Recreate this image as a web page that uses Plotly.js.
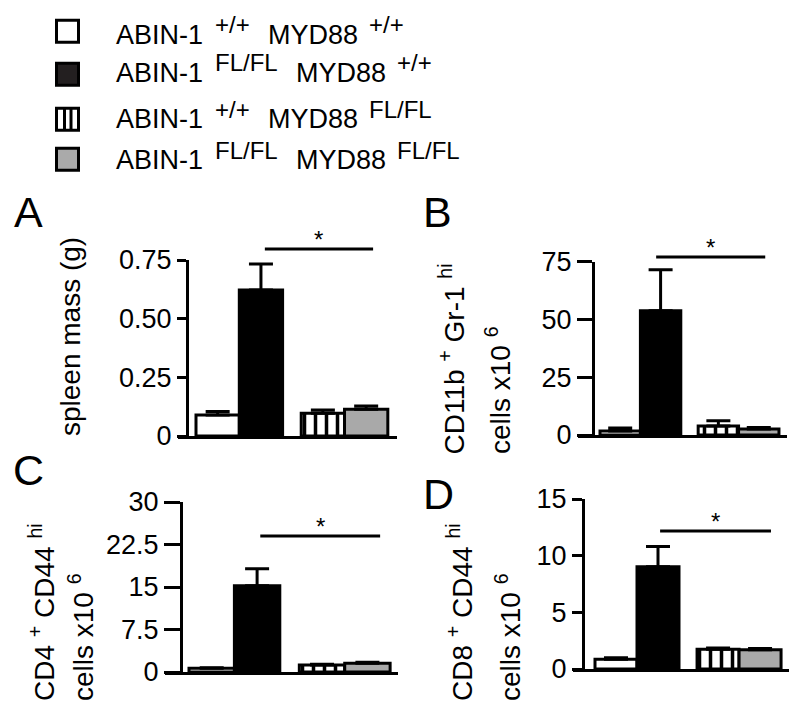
<!DOCTYPE html>
<html>
<head>
<meta charset="utf-8">
<script src="https://cdn.plot.ly/plotly-3.0.1.min.js"></script>
<style>
  html, body { margin: 0; padding: 0; background: #fff; }
  #chart { width: 800px; height: 704px; }
</style>
</head>
<body>
<div id="chart"></div>
<script>
// genotypes (legend order = bar order)
const abinAllele = ['+/+', 'FL/FL', '+/+', 'FL/FL'];
const myd88Allele = ['+/+', '+/+', 'FL/FL', 'FL/FL'];

// A: spleen mass (g)
const spleenMass = [0.089, 0.622, 0.097, 0.114];
const spleenMassErr = [0.015, 0.111, 0.014, 0.014];
// B: CD11b+ Gr-1hi cells x10^6
const myeloidCells = [1.7, 53.7, 3.9, 2.6];
const myeloidErr = [1.3, 17.7, 2.3, 0.6];
// C: CD4+ CD44hi cells x10^6
const cd4Cells = [0.65, 15.2, 1.24, 1.53];
const cd4Err = [0.1, 3.0, 0.12, 0.17];
// D: CD8+ CD44hi cells x10^6
const cd8Cells = [0.85, 9.03, 1.74, 1.7];
const cd8Err = [0.15, 1.77, 0.11, 0.1];

const ticksA = [0, 0.25, 0.5, 0.75], tickTextA = ['0', '0.25', '0.50', '0.75'];
const ticksB = [0, 25, 50, 75];
const ticksC = [0, 7.5, 15, 22.5, 30], tickTextC = ['0', '7.5', '15', '22.5', '30'];
const ticksD = [0, 5, 10, 15];

const W = 800, H = 704;
const FONT = 'Liberation Sans, Arial, sans-serif';
const barFill = ['#ffffff', '#000000', '#ffffff', '#a9a9a9'];
const barPattern = ['', '', '|', ''];
const barX = [0, 1, 2.43, 3.43];

function px(x) { return x / W; }
function py(y) { return 1 - y / H; }

// pixel geometry of each panel
const panels = [
    { id: '', letter: 'A', vals: spleenMass, err: spleenMassErr, ticks: ticksA, text: tickTextA,
      xStart: 178, yAxisX: 187, xEnd: 397, yZero: 436, yTop: 260, bar0: 196, unit: 43.3, ticklen: 9,
      letterX: 12, letterY: 212, sig: [1.09, 3.59], sigY: 249 },
    { id: '2', letter: 'B', vals: myeloidCells, err: myeloidErr, ticks: ticksB, text: ticksB.map(String),
      xStart: 578, yAxisX: 593, xEnd: 787, yZero: 435, yTop: 261.5, bar0: 600, unit: 40.4, ticklen: 15,
      letterX: 421, letterY: 212, sig: [0.89, 3.59], sigY: 257 },
    { id: '3', letter: 'C', vals: cd4Cells, err: cd4Err, ticks: ticksC, text: tickTextC,
      xStart: 165, yAxisX: 181, xEnd: 398, yZero: 672, yTop: 502, bar0: 189, unit: 45.4, ticklen: 16,
      letterX: 11, letterY: 470, sig: [1.07, 3.71], sigY: 536 },
    { id: '4', letter: 'D', vals: cd8Cells, err: cd8Err, ticks: ticksD, text: ticksD.map(String),
      xStart: 573, yAxisX: 583, xEnd: 789, yZero: 669, yTop: 499, bar0: 595, unit: 42.0, ticklen: 10,
      letterX: 421, letterY: 494, sig: [1.05, 3.69], sigY: 531 }
];

const data = [];
const layout = {
    width: W, height: H,
    margin: { l: 0, r: 0, t: 0, b: 0 },
    paper_bgcolor: '#fff', plot_bgcolor: 'rgba(0,0,0,0)',
    showlegend: false,
    bargap: 0, barmode: 'overlay',
    font: { family: FONT, size: 27, color: '#000' },
    shapes: [],
    annotations: []
};

panels.forEach(function(p) {
    const c0 = p.bar0 + p.unit / 2;
    const xa = 'xaxis' + p.id, ya = 'yaxis' + p.id;
    // one trace per genotype
    p.vals.forEach(function(v, i) {
        const marker = { color: barFill[i], line: { color: '#000', width: 3 } };
        if (barPattern[i]) {
            marker.pattern = { shape: barPattern[i], fgcolor: '#000', bgcolor: '#fff', size: 11, solidity: 0.32 };
        }
        data.push({
            type: 'bar',
            x: [barX[i]], y: [v],
            width: 1,
            xaxis: 'x' + p.id, yaxis: 'y' + p.id,
            marker: marker,
            error_y: {
                type: 'data', symmetric: false,
                array: [p.err[i]], arrayminus: [0],
                color: '#000', thickness: 3, width: 12
            },
            hoverinfo: 'skip'
        });
    });
    layout[xa] = {
        domain: [px(p.xStart), px(p.xEnd)],
        range: [(p.xStart - c0) / p.unit, (p.xEnd - c0) / p.unit],
        anchor: 'y' + p.id,
        showline: true, linecolor: '#000', linewidth: 3,
        showticklabels: false, ticks: '', showgrid: false, zeroline: false, fixedrange: true
    };
    layout[ya] = {
        domain: [py(p.yZero), py(p.yTop)],
        range: [0, p.ticks[p.ticks.length - 1]],
        anchor: 'free', position: px(p.yAxisX),
        showline: true, linecolor: '#000', linewidth: 3,
        ticks: 'outside', ticklen: p.ticklen, tickwidth: 3, tickcolor: '#000',
        tickvals: p.ticks, ticktext: p.text,
        tickfont: { family: FONT, size: 27, color: '#000' },
        showgrid: false, zeroline: false, fixedrange: true
    };
    // significance bar and star
    layout.shapes.push({
        type: 'line', xref: 'x' + p.id, yref: 'paper',
        x0: p.sig[0], x1: p.sig[1], y0: py(p.sigY), y1: py(p.sigY),
        line: { color: '#000', width: 3 }
    });
    layout.annotations.push({
        xref: 'x' + p.id, yref: 'paper',
        x: (p.sig[0] + p.sig[1]) / 2, y: py(p.sigY + 6),
        text: '*', showarrow: false, yanchor: 'bottom',
        font: { family: FONT, size: 24, color: '#000' }
    });
    // panel letter
    layout.annotations.push({
        xref: 'paper', yref: 'paper', x: px(p.letterX), y: py(p.letterY),
        xanchor: 'left', yanchor: 'middle', text: p.letter, showarrow: false,
        font: { family: FONT, size: 43, color: '#000' }
    });
});

// axis titles (rotated), each line its own annotation
const titles = [
    { text: 'spleen mass (g)', x: 70, y: 337, anchor: 'middle' },
    { text: 'CD11b <sup>+</sup> Gr-1 <sup>hi</sup>', x: 452, y: 456, anchor: 'bottom' },
    { text: 'cells x10 <sup>6</sup>', x: 498, y: 456, anchor: 'bottom' },
    { text: 'CD4 <sup>+</sup> CD44 <sup>hi</sup>', x: 42, y: 703, anchor: 'bottom' },
    { text: 'cells x10 <sup>6</sup>', x: 81, y: 703, anchor: 'bottom' },
    { text: 'CD8 <sup>+</sup> CD44 <sup>hi</sup>', x: 460, y: 703, anchor: 'bottom' },
    { text: 'cells x10 <sup>6</sup>', x: 508, y: 703, anchor: 'bottom' }
];
titles.forEach(function(t) {
    layout.annotations.push({
        xref: 'paper', yref: 'paper', x: px(t.x), y: py(t.y),
        xanchor: 'center', yanchor: t.anchor, textangle: -90,
        text: t.text, showarrow: false,
        font: { family: FONT, size: 28, color: '#000' }
    });
});

// legend drawn by hand: big squares and genotype labels with raised alleles
const rowY = [31.3, 74.2, 119.2, 159.2];
const capY = [34.7, 72.5, 119.2, 160];
const squareFill = ['#ffffff', '#231f20', '#ffffff', '#aaaaaa'];
const supWidth = { '+/+': 35, 'FL/FL': 63 };
function legendText(text, x, y, size) {
    layout.annotations.push({
        xref: 'paper', yref: 'paper', x: px(x), y: py(y),
        xanchor: 'left', yanchor: 'middle', showarrow: false, borderpad: 0,
        text: text, font: { family: FONT, size: size, color: '#000' }
    });
}
abinAllele.forEach(function(a, i) {
    const y = rowY[i];
    layout.shapes.push({
        type: 'rect', xref: 'paper', yref: 'paper',
        x0: px(56.5), x1: px(78.5), y0: py(y + 11), y1: py(y - 11),
        fillcolor: squareFill[i], line: { color: '#000', width: 3 }
    });
    if (barPattern[i] === '|') {
        [64.5, 71].forEach(function(lx) {
            layout.shapes.push({
                type: 'line', xref: 'paper', yref: 'paper',
                x0: px(lx), x1: px(lx), y0: py(y + 11), y1: py(y - 11),
                line: { color: '#000', width: 3 }
            });
        });
    }
    const mydX = 215 + supWidth[a] + 17;
    legendText('ABIN-1', 115, capY[i], 27);
    legendText(a, 214, capY[i] - 10, 24);
    legendText('MYD88', mydX, capY[i], 27);
    legendText(myd88Allele[i], mydX + 101, capY[i] - 10, 24);
});

Plotly.newPlot('chart', data, layout, { staticPlot: true, displayModeBar: false });
</script>
</body>
</html>
